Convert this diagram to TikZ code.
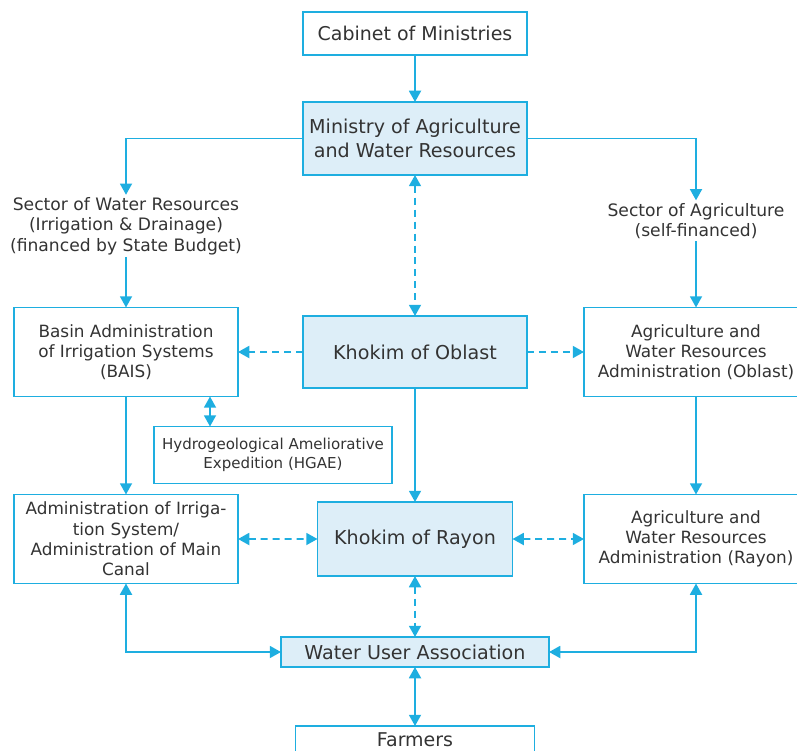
\documentclass[tikz,border=0pt]{standalone}
\usepackage{fontspec}
\setmainfont{DejaVu Sans}
\usetikzlibrary{positioning,arrows.meta}
\definecolor{linecol}{RGB}{30,174,224}
\definecolor{fillcol}{RGB}{221,238,248}
\definecolor{txtcol}{RGB}{51,51,51}

\begin{document}
\begin{tikzpicture}[auto,node distance=1cm,>={Triangle[length=8pt,width=8.5pt]}]
	\tikzstyle{org}=[rectangle,draw=linecol,line width=1.4pt,text=txtcol,align=center,font=\fontsize{12}{14.4}\selectfont,minimum width=5.6cm,inner sep=2pt,outer sep=0pt]
	\tikzstyle{orgfill}=[org,fill=fillcol,font=\fontsize{13.6}{16.6}\selectfont]
	\tikzstyle{txt}=[text=txtcol,align=center,font=\fontsize{12.2}{14.4}\selectfont,inner sep=2pt,outer sep=0pt]
	\tikzstyle{link}=[->,color=linecol,line width=1.4pt]
	\tikzstyle{dlink}=[link,dash pattern=on 5pt off 3.5pt]
	\useasboundingbox (0,0) rectangle (19.925,-18.775);
	\clip (0,0) rectangle (19.925,-18.775);
		\node[org, minimum height=1.075cm, font=\fontsize{13.5}{16.6}\selectfont] (cab) at (10.375,-0.8375) {Cabinet of Ministries};
		\node[orgfill, minimum height=1.825cm] (min) [below=1.175cm of cab] {Ministry of Agriculture\\and Water Resources};
		\node[orgfill, minimum height=1.8cm] (kob) [below=3.525cm of min] {Khokim of Oblast};
		\node[orgfill, minimum width=4.875cm, minimum height=1.85cm] (kra) [below=2.85cm of kob] {Khokim of Rayon};
		\node[orgfill, minimum width=6.7cm, minimum height=0.75cm] (wua) [below=1.525cm of kra] {Water User Association};
		\node[org, minimum width=5.975cm, minimum height=0.7cm, font=\fontsize{13.5}{16.6}\selectfont] (far) [below=1.475cm of wua] {Farmers};
		\node[org, minimum height=2.225cm] (bais) [left=1.625cm of kob] {Basin Administration\\of Irrigation Systems\\(BAIS)};
		\node[org, minimum height=2.225cm] (ao) [right=1.425cm of kob] {Agriculture and\\Water Resources\\Administration (Oblast)};
		\node[org, minimum height=2.225cm] (ais) [below=2.45cm of bais] {Administration of Irriga-\\tion System/\\Administration of Main\\Canal};
		\node[org, minimum height=2.225cm] (ar) [below=2.45cm of ao] {Agriculture and\\Water Resources\\Administration (Rayon)};
		\node[org, minimum width=5.95cm, minimum height=1.425cm, font=\fontsize{10.7}{13.3}\selectfont] (hgae) [below=0.75cm of bais, xshift=3.675cm] {Hydrogeological Ameliorative\\Expedition (HGAE)};
		\node[txt] (sw) [above=1.25cm of bais] {Sector of Water Resources\\(Irrigation \& Drainage)\\(financed by State Budget)};
		\node[txt] (sa) [above=1.65cm of ao] {Sector of Agriculture\\(self-financed)};
			\draw[link] (cab) -- (min);
			\draw[link] (min.west) -| (sw.north);
			\draw[link] (min.east) -| (sa.north);
			\draw[link] (sw) -- (bais);
			\draw[link] (sa) -- (ao);
			\draw[dlink,<->] (min) -- (kob);
			\draw[dlink] (kob) -- (bais);
			\draw[dlink] (kob) -- (ao);
			\draw[link,<->] ([xshift=2.1cm]bais.south) -- ([xshift=2.1cm]bais.south |- hgae.north);
			\draw[link] (bais) -- (ais);
			\draw[link] (kob) -- (kra);
			\draw[link] (ao) -- (ar);
			\draw[dlink,<->] (ais) -- (kra);
			\draw[dlink,<->] (kra) -- (ar);
			\draw[dlink,<->] (kra) -- (wua);
			\draw[link,<->] (ais.south) |- (wua.west);
			\draw[link,<->] (ar.south) |- (wua.east);
			\draw[link,<->] (wua) -- (far);
\end{tikzpicture}
\end{document}
